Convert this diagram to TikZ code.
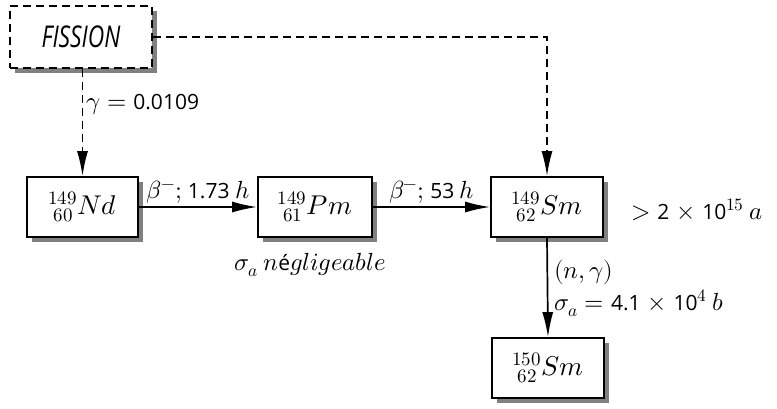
\documentclass[tikz,border=0pt]{standalone}
\usepackage{fontspec}
\usepackage{unicode-math}
\usepackage{graphicx}
\setmainfont{Open Sans}
\setmathfont{Latin Modern Math}[Scale=1.18]
\usetikzlibrary{shadows,arrows.meta}
\begin{document}
\begin{tikzpicture}[x=1pt,y=-1pt,
  box/.style={draw,line width=1.7pt,fill=white,inner sep=0pt,minimum height=60pt,
    drop shadow={shadow xshift=5pt,shadow yshift=-5pt,fill=black!50,opacity=1},
    font=\fontsize{23}{27}\selectfont},
  dsh/.style={line width=1.7pt,dash pattern=on 8pt off 5pt},
  arr/.style={line width=1.7pt,-{Latex[length=25pt,width=11pt]}},
  lbl/.style={font=\fontsize{21}{25}\selectfont,inner sep=2pt}]
\useasboundingbox (0,0) rectangle (777,408);
\node[box,dsh,minimum width=142pt,minimum height=62pt] (fission) at (81,37) {\scalebox{0.76}[1]{\fontsize{30}{34}\selectfont\itshape FISSION}};
\node[box,minimum width=111pt] (nd) at (82.5,207) {$^{149}_{\;60}Nd$};
\node[box,minimum width=114pt] (pm) at (315,207) {$^{149}_{\;61}Pm$};
\node[box,minimum width=112pt] (sm) at (547,207) {$^{149}_{\;62}Sm$};
\node[box,minimum width=112pt] (sm2) at (548,368) {$^{150}_{\;62}Sm$};
\draw[arr,dsh] (fission.south -| nd.north) -- (nd.north);
\draw[arr,dsh] (fission.east) -| (sm.north);
\draw[arr] (nd) -- node[lbl,above=1pt]{$\beta^-;$ 1.73 $h$} (pm);
\draw[arr] (pm) -- node[lbl,above=1pt]{$\beta^-;$ 53 $h$} (sm);
\draw[arr] (sm.south) -- (sm2.north);
\node[lbl,anchor=west] (g) at (84,105) {$\gamma = {}$0.0109};
\node[lbl] (neg) at (310,265) {$\sigma_a$ $n$é$gligeable$};
\node[lbl,anchor=west] (half) at (622,210) {${}>{}$2$\;\times\;$10$^{15}$ $a$};
\node[lbl,anchor=west] (ng) at (552,272) {$(n,\gamma)$};
\node[lbl,anchor=west] (sig) at (552,303) {$\sigma_a = {}$4.1$\;\times\;$10$^4$ $b$};
\end{tikzpicture}
\end{document}
